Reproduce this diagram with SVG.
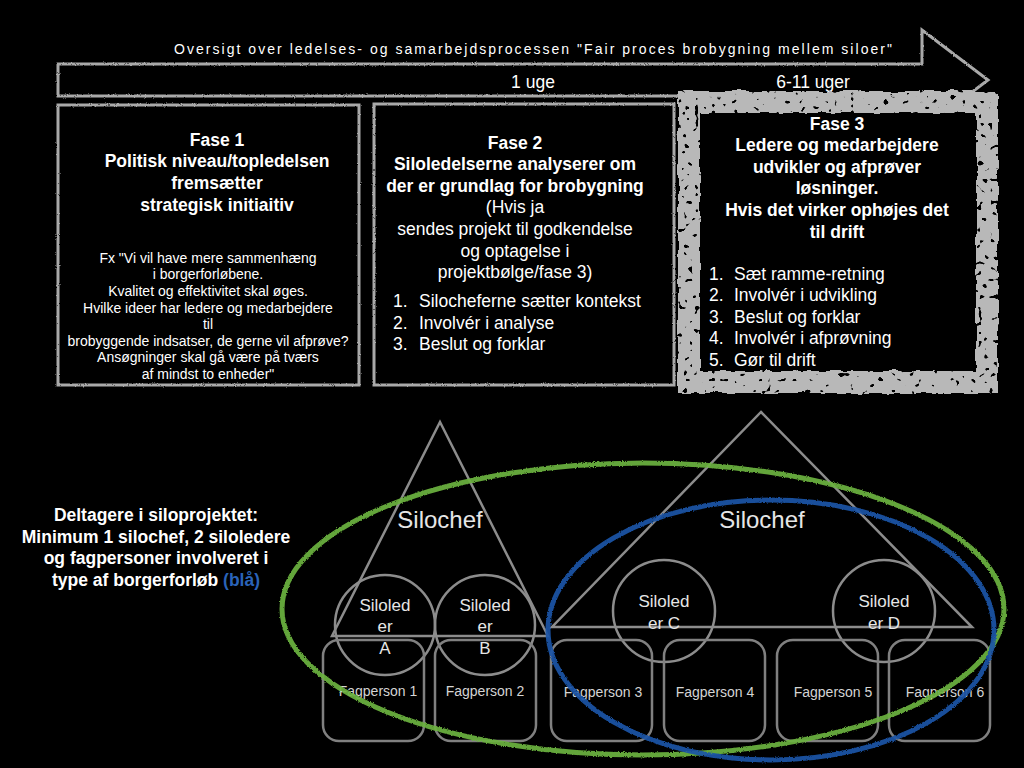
<svg xmlns="http://www.w3.org/2000/svg" width="1024" height="768" viewBox="0 0 1024 768">
<defs>
<style>
.t{font-family:"Liberation Sans",Arial,sans-serif;fill:#ffffff}
.b{font-weight:bold;font-size:17.5px}
.n16{font-size:17.5px}
.n13{font-size:14px}
.mid{text-anchor:middle}
.thin{fill:none;stroke:#a9a9a9;stroke-width:3}
.shape{fill:none;stroke:#8c8c8c;stroke-width:2.5}
.fag{fill:none;stroke:#808080;stroke-width:2.5}
.lbl{font-family:"Liberation Sans",Arial,sans-serif;fill:#e6e6e6}
.fl{font-family:"Liberation Sans",Arial,sans-serif;fill:#d4d4d4;font-size:14px;text-anchor:middle}
</style>
<filter id="grain" x="-2%" y="-10%" width="104%" height="120%">
<feTurbulence type="fractalNoise" baseFrequency="0.9" numOctaves="1" seed="2" result="n"/>
<feDisplacementMap in="SourceGraphic" in2="n" scale="2.5" xChannelSelector="R" yChannelSelector="G"/>
</filter>
<filter id="rough" x="-5%" y="-5%" width="110%" height="110%">
<feTurbulence type="fractalNoise" baseFrequency="0.07" numOctaves="2" seed="3" result="n"/>
<feDisplacementMap in="SourceGraphic" in2="n" scale="6" xChannelSelector="R" yChannelSelector="G" result="d"/>
<feTurbulence type="fractalNoise" baseFrequency="0.18" numOctaves="1" seed="11" result="n2"/>
<feColorMatrix in="n2" type="matrix" values="0 0 0 0 0 0 0 0 0 0 0 0 0 0 0 25 0 0 0 -7.5" result="mask"/>
<feComposite in="d" in2="mask" operator="in"/>
</filter>
<filter id="fuzz" x="-5%" y="-5%" width="110%" height="110%">
<feTurbulence type="fractalNoise" baseFrequency="1.2" numOctaves="1" seed="5" result="n"/>
<feDisplacementMap in="SourceGraphic" in2="n" scale="3" xChannelSelector="R" yChannelSelector="G"/>
</filter>
</defs>
<rect width="1024" height="768" fill="#000000"/>

<g id="timeline-arrow">
<polygon points="58,64 922,64 922,30 988,80 922,130 922,96 58,96" class="thin" filter="url(#grain)"/>
<text class="t" x="533" y="54" font-size="14" text-anchor="middle" textLength="718" lengthAdjust="spacing">Oversigt over ledelses- og samarbejdsprocessen "Fair proces brobygning mellem siloer"</text>
<text class="t n16 mid" x="533" y="88">1 uge</text>
<text class="t n16 mid" x="813" y="88">6-11 uger</text>
</g>

<g id="fase1">
<rect x="58" y="105" width="301" height="280" class="thin" fill="#000" filter="url(#grain)"/>
<text class="t b mid" x="217" y="146">Fase 1</text>
<text class="t b mid" x="217" y="167">Politisk niveau/topledelsen</text>
<text class="t b mid" x="217" y="189">fremsætter</text>
<text class="t b mid" x="217" y="211">strategisk initiaitiv</text>
<text class="t n13 mid" x="208" y="263">Fx "Vi vil have mere sammenhæng</text>
<text class="t n13 mid" x="208" y="279">i borgerforløbene.</text>
<text class="t n13 mid" x="208" y="296">Kvalitet og effektivitet skal øges.</text>
<text class="t n13 mid" x="208" y="313">Hvilke ideer har ledere og medarbejdere</text>
<text class="t n13 mid" x="208" y="329">til</text>
<text class="t n13 mid" x="208" y="346">brobyggende indsatser, de gerne vil afprøve?</text>
<text class="t n13 mid" x="208" y="362">Ansøgninger skal gå være på tværs</text>
<text class="t n13 mid" x="208" y="379">af mindst to enheder"</text>
</g>

<g id="fase2">
<rect x="374" y="104" width="300" height="281" class="thin" fill="#000" filter="url(#grain)"/>
<text class="t b mid" x="515" y="149">Fase 2</text>
<text class="t b mid" x="515" y="170">Siloledelserne analyserer om</text>
<text class="t b mid" x="515" y="192">der er grundlag for brobygning</text>
<text class="t n16 mid" x="515" y="213">(Hvis ja</text>
<text class="t n16 mid" x="515" y="235">sendes projekt til godkendelse</text>
<text class="t n16 mid" x="515" y="257">og optagelse i</text>
<text class="t n16 mid" x="515" y="278">projektbølge/fase 3)</text>
<text class="t n16" x="393" y="307">1.</text><text class="t n16" x="419" y="307">Silocheferne sætter kontekst</text>
<text class="t n16" x="393" y="329">2.</text><text class="t n16" x="419" y="329">Involvér i analyse</text>
<text class="t n16" x="393" y="350">3.</text><text class="t n16" x="419" y="350">Beslut og forklar</text>
</g>

<g id="fase3">
<rect x="700" y="113" width="277" height="256" fill="#000"/>
<rect x="689" y="102" width="298" height="280" fill="none" stroke="#b8b8b8" stroke-width="22" filter="url(#rough)"/>
<text class="t b mid" x="837" y="130">Fase 3</text>
<text class="t b mid" x="837" y="151">Ledere og medarbejdere</text>
<text class="t b mid" x="837" y="173">udvikler og afprøver</text>
<text class="t b mid" x="837" y="194">løsninger.</text>
<text class="t b mid" x="837" y="216">Hvis det virker ophøjes det</text>
<text class="t b mid" x="837" y="238">til drift</text>
<text class="t n16" x="709" y="280">1.</text><text class="t n16" x="734" y="280">Sæt ramme-retning</text>
<text class="t n16" x="709" y="301">2.</text><text class="t n16" x="734" y="301">Involvér i udvikling</text>
<text class="t n16" x="709" y="323">3.</text><text class="t n16" x="734" y="323">Beslut og forklar</text>
<text class="t n16" x="709" y="344">4.</text><text class="t n16" x="734" y="344">Involvér i afprøvning</text>
<text class="t n16" x="709" y="366">5.</text><text class="t n16" x="734" y="366">Gør til drift</text>
</g>

<g id="deltagere">
<text class="t b mid" x="156" y="521">Deltagere i siloprojektet:</text>
<text class="t b mid" x="156" y="543">Minimum 1 silochef, 2 siloledere</text>
<text class="t b mid" x="156" y="564">og fagpersoner involveret i</text>
<text class="t b mid" x="156" y="586">type af borgerforløb <tspan fill="#2a63b8">(blå)</tspan></text>
</g>

<g id="silo-left">
<polygon points="440,422 548,636 332,636" class="shape"/>
<text class="lbl mid" x="440" y="528" font-size="24">Silochef</text>
</g>
<g id="siloleder-a">
<circle cx="385" cy="625" r="50" class="shape" stroke-width="3"/>
<text class="lbl mid" x="385" y="611" font-size="17">Siloled</text>
<text class="lbl mid" x="385" y="632" font-size="17">er</text>
<text class="lbl mid" x="385" y="654" font-size="17">A</text>
</g>
<g id="siloleder-b">
<circle cx="485" cy="625" r="50" class="shape" stroke-width="3"/>
<text class="lbl mid" x="485" y="611" font-size="17">Siloled</text>
<text class="lbl mid" x="485" y="632" font-size="17">er</text>
<text class="lbl mid" x="485" y="654" font-size="17">B</text>
</g>

<g id="silo-right">
<polygon points="761,412 972,627 552,627" class="shape"/>
<text class="lbl mid" x="762" y="528" font-size="24">Silochef</text>
</g>
<g id="siloleder-c">
<circle cx="664" cy="611" r="51" class="shape" stroke-width="3"/>
<text class="lbl mid" x="664" y="607" font-size="17">Siloled</text>
<text class="lbl mid" x="664" y="629" font-size="17">er C</text>
</g>
<g id="siloleder-d">
<circle cx="884" cy="611" r="51" class="shape" stroke-width="3"/>
<text class="lbl mid" x="884" y="607" font-size="17">Siloled</text>
<text class="lbl mid" x="884" y="629" font-size="17">er D</text>
</g>

<g id="fagperson-1"><rect x="323" y="640" width="101" height="101" rx="16" class="fag"/><text class="fl" x="378" y="696">Fagperson 1</text></g>
<g id="fagperson-2"><rect x="435" y="640" width="101" height="101" rx="16" class="fag"/><text class="fl" x="485" y="696">Fagperson 2</text></g>
<g id="fagperson-3"><rect x="551" y="640" width="101" height="101" rx="16" class="fag"/><text class="fl" x="603" y="697">Fagperson 3</text></g>
<g id="fagperson-4"><rect x="664" y="640" width="101" height="101" rx="16" class="fag"/><text class="fl" x="715" y="697">Fagperson 4</text></g>
<g id="fagperson-5"><rect x="777" y="640" width="101" height="101" rx="16" class="fag"/><text class="fl" x="833" y="697">Fagperson 5</text></g>
<g id="fagperson-6"><rect x="889" y="640" width="101" height="101" rx="16" class="fag"/><text class="fl" x="945" y="697">Fagperson 6</text></g>

<g id="groupings">
<ellipse cx="643" cy="609" rx="361" ry="146" fill="none" stroke="#6cb33f" stroke-width="5" opacity="0.92" filter="url(#fuzz)"/>
<ellipse cx="771" cy="630" rx="223" ry="130" fill="none" stroke="#1b55a8" stroke-width="5" opacity="0.92" filter="url(#fuzz)"/>
</g>
</svg>
